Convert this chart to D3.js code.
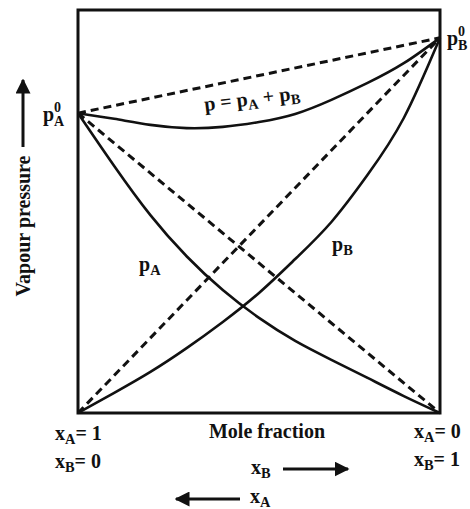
<!DOCTYPE html>
<html lang="en">
<head>
<meta charset="UTF-8">
<title>Vapour pressure</title>
<script src="https://d3js.org/d3.v7.min.js"></script>
<style>
    body {margin: 0; background: white;}
    text {font-family: "Liberation Serif", "DejaVu Serif", serif; font-weight: bold; fill: #111;}
    .curve {fill: none; stroke: #111; stroke-width: 2.6px;}
    .ideal {fill: none; stroke: #111; stroke-width: 3px; stroke-dasharray: 8 5;}
</style>
</head>
<body>
<div id="chart"></div>
<script>
    // mole fraction of B along the x axis
    var xB = [0, 0.1, 0.2, 0.3, 0.4, 0.5, 0.6, 0.7, 0.8, 0.9, 1];
    // partial and total vapour pressures (arbitrary units)
    var pA = [74.4, 61.3, 49.1, 38.9, 30.5, 23.6, 17.9, 13.2, 8.7, 4.2, 0];
    var pB = [0, 5.0, 10.2, 16.1, 22.6, 29.8, 38.2, 47.4, 59.1, 73.2, 93.1];
    var pTotal = [74.4, 73.0, 71.5, 70.7, 71.0, 72.2, 74.2, 77.7, 81.9, 86.8, 93.1];
    // ideal (Raoult) straight lines, end points only
    var xEnds = [0, 1];
    var idealA = [74.4, 0];
    var idealB = [0, 93.1];
    var idealTotal = [74.4, 93.1];

    var W = 470, H = 509;

    var x = d3.scaleLinear().domain([0, 1]).range([78, 440]);
    var y = d3.scaleLinear().domain([0, 100]).range([413, 10]);

    var svg = d3.select("#chart").append("svg")
        .attr("width", W)
        .attr("height", H);

    var defs = svg.append("defs");
    defs.append("marker")
        .attr("id", "head")
        .attr("viewBox", "0 0 10 10")
        .attr("refX", 9).attr("refY", 5)
        .attr("markerWidth", 5).attr("markerHeight", 5)
        .attr("markerUnits", "strokeWidth")
        .attr("orient", "auto")
      .append("path")
        .attr("d", "M0,0 L10,5 L0,10 Z")
        .attr("fill", "#111");

    // frame
    svg.append("rect")
        .attr("x", x(0)).attr("y", y(100))
        .attr("width", x(1) - x(0)).attr("height", y(0) - y(100))
        .attr("fill", "none").attr("stroke", "#111").attr("stroke-width", 3);

    var curve = d3.line()
        .x(function(d) {return x(d[0])})
        .y(function(d) {return y(d[1])})
        .curve(d3.curveNatural);

    function pairs(xs, ys) {return xs.map(function(v, i) {return [v, ys[i]]})}

    [idealA, idealB, idealTotal].forEach(function(s) {
        svg.append("path").attr("class", "ideal").attr("d", curve(pairs(xEnds, s)));
    });
    [pA, pB, pTotal].forEach(function(s) {
        svg.append("path").attr("class", "curve").attr("d", curve(pairs(xB, s)));
    });

    // p with super 0 and sub letter
    function pLabel(px, py, sub) {
        var g = svg.append("g").attr("transform", "translate(" + px + "," + py + ")");
        g.append("text").attr("x", 0).attr("y", 0).attr("font-size", 20).text("p");
        g.append("text").attr("x", 11).attr("y", -9).attr("font-size", 14).text("0");
        g.append("text").attr("x", 11).attr("y", 5).attr("font-size", 14).text(sub);
    }
    pLabel(43, 121, "A");
    pLabel(447, 45, "B");

    // text with subscript pieces: parts = [[str, isSub], ...]
    function subText(px, py, parts, size, rot) {
        var t = svg.append("text")
            .attr("x", px).attr("y", py)
            .attr("font-size", size);
        if (rot) t.attr("transform", "rotate(" + rot + "," + px + "," + py + ")");
        parts.forEach(function(p) {
            var ts = t.append("tspan").text(p[0]);
            if (p[1] === 1) ts.attr("font-size", size * 0.72).attr("dy", 4);
            else if (p[1] === -1) ts.attr("dy", -4);
        });
        return t;
    }

    subText(205, 111, [["p = p", 0], ["A", 1], [" + p", -1], ["B", 1]], 20, -7);
    subText(139, 271, [["p", 0], ["A", 1]], 20);
    subText(332, 251, [["p", 0], ["B", 1]], 20);

    subText(55, 440, [["x", 0], ["A", 1], ["= 1", -1]], 20);
    subText(55, 468, [["x", 0], ["B", 1], ["= 0", -1]], 20);
    subText(414, 438, [["x", 0], ["A", 1], ["= 0", -1]], 20);
    subText(414, 466, [["x", 0], ["B", 1], ["= 1", -1]], 20);

    svg.append("text")
        .attr("x", 267).attr("y", 438)
        .attr("text-anchor", "middle")
        .attr("font-size", 20)
        .text("Mole fraction");

    subText(251, 474, [["x", 0], ["B", 1]], 20);
    subText(250, 503, [["x", 0], ["A", 1]], 20);

    // direction arrows
    svg.append("line")
        .attr("x1", 283).attr("y1", 469).attr("x2", 348).attr("y2", 469)
        .attr("stroke", "#111").attr("stroke-width", 3).attr("marker-end", "url(#head)");
    svg.append("line")
        .attr("x1", 240).attr("y1", 499).attr("x2", 176).attr("y2", 499)
        .attr("stroke", "#111").attr("stroke-width", 3).attr("marker-end", "url(#head)");
    svg.append("line")
        .attr("x1", 23).attr("y1", 147).attr("x2", 23).attr("y2", 80)
        .attr("stroke", "#111").attr("stroke-width", 3).attr("marker-end", "url(#head)");

    svg.append("text")
        .attr("transform", "translate(30,226) rotate(-90)")
        .attr("text-anchor", "middle")
        .attr("font-size", 20)
        .text("Vapour pressure");
</script>
</body>
</html>
